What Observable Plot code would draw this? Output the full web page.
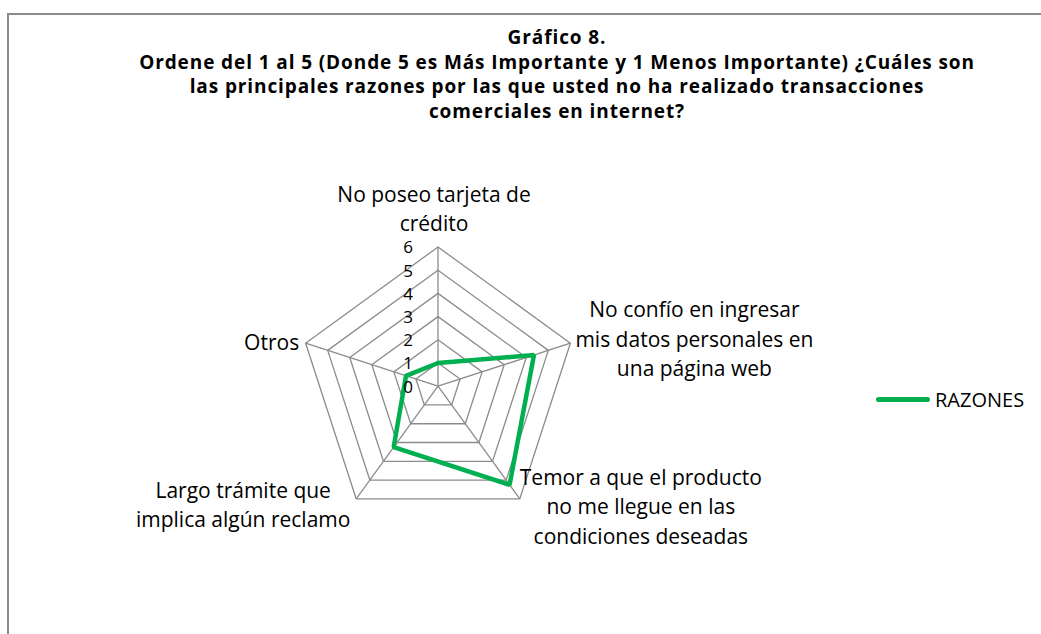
<!DOCTYPE html>
<html><head><meta charset="utf-8">
<script src="https://cdn.jsdelivr.net/npm/d3@7"></script>
<script src="https://cdn.jsdelivr.net/npm/@observablehq/plot@0.6"></script>
<style>
body{margin:0;background:#fff;font-family:"Open Sans",sans-serif;color:#000;}
#frame{position:absolute;left:7px;top:13px;width:1040px;height:630px;border-top:2px solid #8c8c8c;border-left:2px solid #8c8c8c;box-sizing:border-box;}
#title{position:absolute;left:57px;top:25px;width:1000px;text-align:center;font-weight:bold;font-size:19px;letter-spacing:0.9px;line-height:24.7px;white-space:nowrap;}
#chart{position:absolute;left:0;top:130px;}
#legend{position:absolute;left:876px;top:386px;display:flex;align-items:center;font-size:20px;white-space:nowrap;}
#legend .sw{width:54px;height:4.5px;background:#00b050;border-radius:3px;margin-right:5px;}
</style>
</head><body>
<div id="frame"></div>
<div id="title"></div>
<div id="chart"></div>
<div id="legend"></div>
<script>
const titleLines = [
  "Gráfico 8.",
  "Ordene del 1 al 5 (Donde 5 es Más Importante y 1 Menos Importante) ¿Cuáles son",
  "las principales razones por las que usted no ha realizado transacciones",
  "comerciales en internet?"
];
const categories = [
  "No poseo tarjeta de\ncrédito",
  "No confío en ingresar\nmis datos personales en\nuna página web",
  "Temor a que el producto\nno me llegue en las\ncondiciones deseadas",
  "Largo trámite que\nimplica algún reclamo",
  "Otros"
];
const seriesName = "RAZONES";
const values = [1.0, 4.35, 5.25, 3.25, 1.45];
const ticks = [0, 1, 2, 3, 4, 5, 6];

// layout (pixels)
const W = 1041, H = 504, cx = 437.5, cy = 255.7, unit = 23.2;
const labelDx = [-4, 124, 121, -113, -34];
const labelDy = [-40, -6, 6, 4, -3];

const n = categories.length;
const ang = i => (90 - 72 * i) * Math.PI / 180;
const px = (i, r) => r * Math.cos(ang(i));
const py = (i, r) => r * Math.sin(ang(i));
const maxV = ticks[ticks.length - 1];

const rings = [];
ticks.filter(t => t > 0).forEach(t => {
  for (let i = 0; i <= n; i++) rings.push({ring: t, x: px(i % n, t), y: py(i % n, t)});
});
const spokes = categories.map((c, i) => ({x2: px(i, maxV), y2: py(i, maxV)}));
const series = [];
for (let i = 0; i <= n; i++) series.push({x: px(i % n, values[i % n]), y: py(i % n, values[i % n])});
const labels = categories.map((c, i) => ({text: c, x: px(i, maxV), y: py(i, maxV), dx: labelDx[i], dy: labelDy[i]}));

document.getElementById("title").innerHTML = titleLines.join("<br>");

const font = "Open Sans";
const plot = Plot.plot({
  width: W, height: H, margin: 0,
  x: {domain: [-cx / unit, (W - cx) / unit], range: [0, W], axis: null},
  y: {domain: [-(H - cy) / unit, cy / unit], range: [H, 0], axis: null},
  style: {fontFamily: font, background: "transparent"},
  marks: [
    Plot.line(rings, {x: "x", y: "y", z: "ring", stroke: "#8c8c8c", strokeWidth: 1.3}),
    Plot.link(spokes, {x1: d => 0, y1: d => 0, x2: "x2", y2: "y2", stroke: "#8c8c8c", strokeWidth: 1.3}),
    Plot.line(series, {x: "x", y: "y", stroke: "#00b050", strokeWidth: 4.5, strokeLinejoin: "miter"}),
    Plot.text(ticks, {x: d => 0, y: d => d, text: d => String(d), textAnchor: "end", dx: -25, dy: 1, fontSize: 17, fill: "#000"}),
    ...labels.map(l => Plot.text([l], {x: "x", y: "y", text: "text", dx: l.dx, dy: l.dy, textAnchor: "middle", lineAnchor: "middle", lineHeight: 1.405, fontSize: 21, fill: "#000"}))
  ]
});
document.getElementById("chart").appendChild(plot);

document.getElementById("legend").innerHTML = `<div class="sw"></div><span>${seriesName}</span>`;
</script>
</body></html>
